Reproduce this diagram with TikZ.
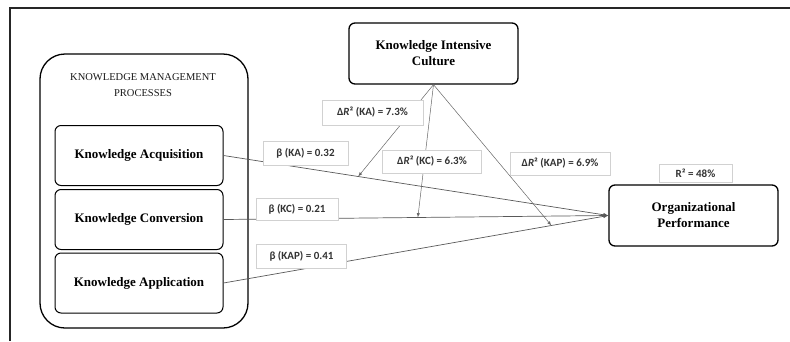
\documentclass[tikz,border=0pt]{standalone}
\usepackage{fontspec}
\setmainfont{Liberation Serif}
\newfontfamily\labelfont{Carlito}
\usepackage{tikz}
\usetikzlibrary{arrows}

\begin{document}
\begin{tikzpicture}
[x=1pt,y=-1pt,>=latex,
  boxdecorate/.style={shape=rectangle,rounded corners=6pt,draw,line width=1.3pt,
    align=center,font=\fontsize{13}{16}\selectfont\bfseries,
    minimum width=169pt,minimum height=61pt,inner sep=0pt},
  procdecorate/.style={boxdecorate,line width=1pt,minimum width=168pt,minimum height=60pt},
  labeldecorate/.style={shape=rectangle,draw=black!18,line width=0.5pt,fill=white,
    font=\labelfont\fontsize{11}{13}\selectfont\bfseries,text=black!80,inner sep=0pt},
  linedecorate/.style={->,line width=0.7pt,draw=black!65},
  moddecorate/.style={->,line width=0.5pt,draw=black!60}]
\useasboundingbox (0,0) rectangle (790,341);
%% frame
\draw[line width=1.5pt,black!85] (10,341) -- (10,8) -- (790,8);
%% process group
\node (kmp) at (144,191) [draw,line width=1.3pt,rounded corners=25pt,
  minimum width=208pt,minimum height=274pt] {};
\node (kmptitle) at (143,85) [align=center,font=\fontsize{10.5}{16}\selectfont,text=black!90]
  {KNOWLEDGE MANAGEMENT\\PROCESSES};
%% nodes
\foreach \nodename/\y/\text in {ka/155.5/Knowledge Acquisition,
  kc/219.5/Knowledge Conversion, kap/283/Knowledge Application}
{
  \node (\nodename) at (139,\y) [procdecorate] {\text};
}
\node (kic) at (433.5,53.5) [boxdecorate] {Knowledge Intensive\\Culture};
\node (op) at (693.5,215.5) [boxdecorate] {Organizational\\Performance};
%% edges
\draw[linedecorate] (ka.east) -- coordinate[pos=0.35] (mka) (op.west);
\draw[linedecorate] (kc.east) -- coordinate[pos=0.505] (mkc) (op.west);
\draw[linedecorate] (kap.east) -- coordinate[pos=0.852] (mkap) (op.west);
\foreach \endnode in {mka, mkc, mkap}
{
  \draw[moddecorate] (kic.south) -- (\endnode);
}
%% labels
\node (bka) at (305.5,153) [labeldecorate,minimum width=85pt,minimum height=24pt]
  {β (KA) = 0.32};
\node (bkc) at (297,209) [labeldecorate,minimum width=82pt,minimum height=22pt]
  {β (KC) = 0.21};
\node (bkap) at (301.5,256) [labeldecorate,minimum width=90pt,minimum height=24pt]
  {β (KAP) = 0.41};
\node (dka) at (372.5,112.5) [labeldecorate,minimum width=101pt,minimum height=25pt]
  {Δ\textit{R}² (KA) = 7.3\%};
\node (dkc) at (432,161.5) [labeldecorate,minimum width=99pt,minimum height=23pt]
  {Δ\textit{R}² (KC) = 6.3\%};
\node (dkap) at (560,163.5) [labeldecorate,minimum width=100pt,minimum height=23pt]
  {Δ\textit{R}² (KAP) = 6.9\%};
\node (rsq) at (695.5,173) [labeldecorate,minimum width=73pt,minimum height=18pt]
  {R² = 48\%};
\end{tikzpicture}
\end{document}
